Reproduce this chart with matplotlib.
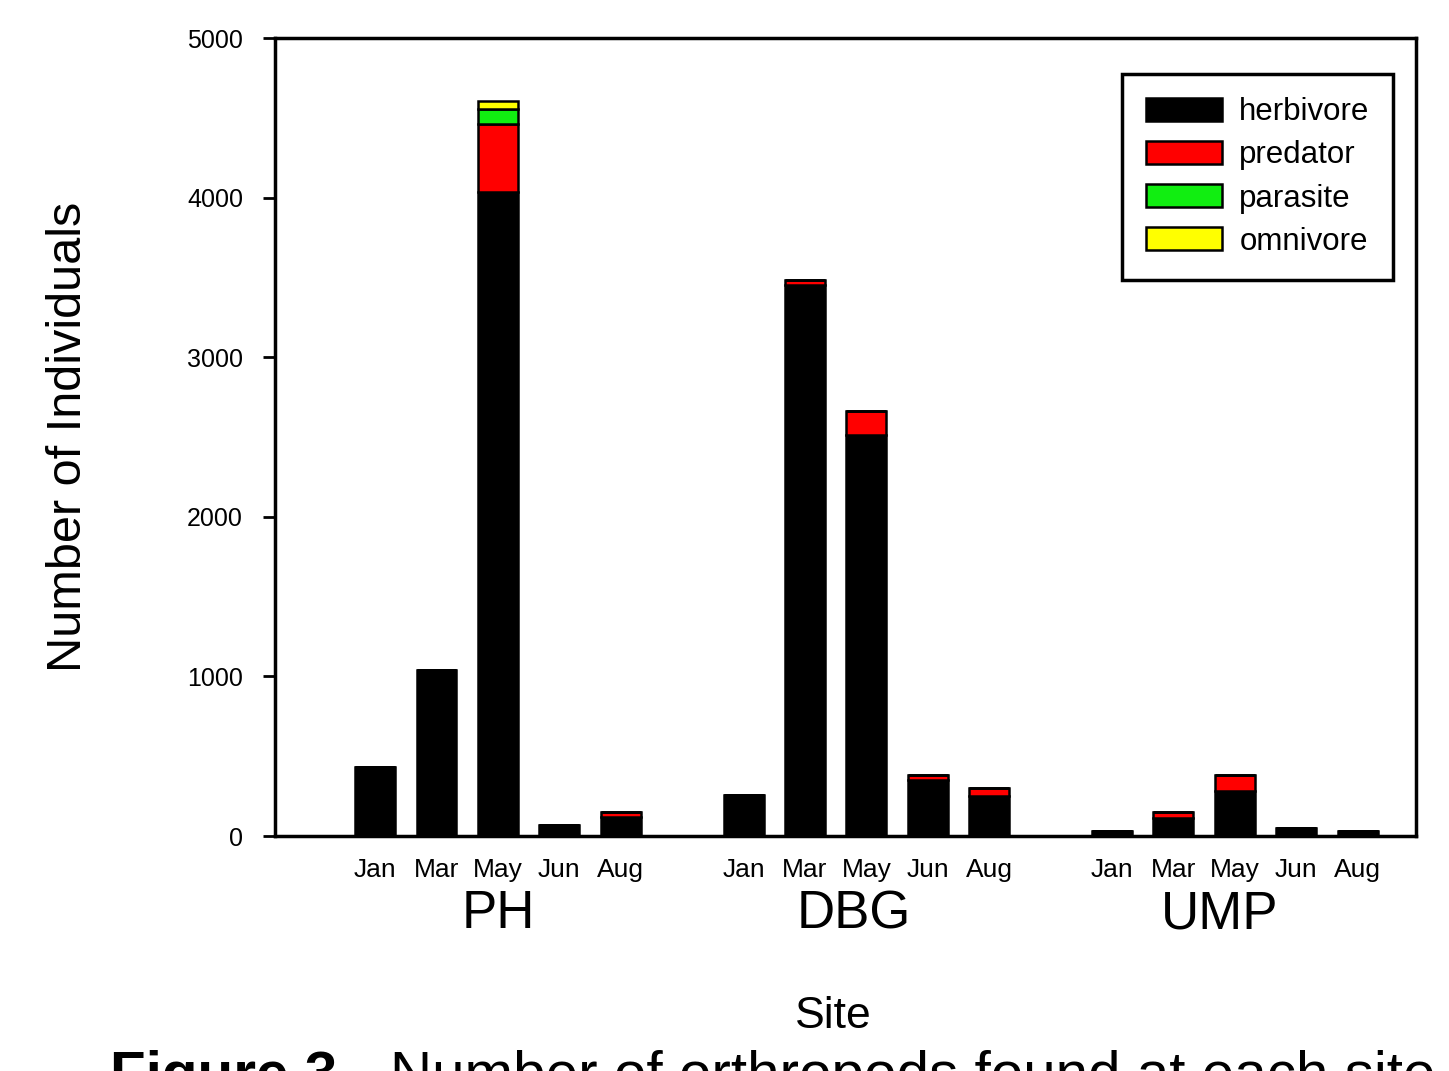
import matplotlib
matplotlib.use("Agg")
import matplotlib.pyplot as plt
import numpy as np

plt.rcParams['font.family'] = ['Liberation Sans', 'DejaVu Sans']

sites = ["PH", "DBG", "UMP"]
months = ["Jan", "Mar", "May", "Jun", "Aug"]
categories = ["herbivore", "predator", "parasite", "omnivore"]

# values per site, ordered Jan, Mar, May, Jun, Aug
herbivore = {"PH": [430, 1040, 4035, 70, 120],
             "DBG": [260, 3450, 2510, 350, 250],
             "UMP": [30, 115, 285, 48, 30]}
predator = {"PH": [0, 0, 425, 0, 30],
            "DBG": [0, 35, 150, 35, 50],
            "UMP": [0, 37, 100, 0, 0]}
parasite = {"PH": [0, 0, 95, 0, 0],
            "DBG": [0, 0, 6, 0, 0],
            "UMP": [0, 0, 0, 0, 0]}
omnivore = {"PH": [0, 0, 50, 0, 0],
            "DBG": [0, 0, 0, 0, 0],
            "UMP": [0, 0, 0, 0, 0]}

series = [herbivore, predator, parasite, omnivore]
colors = ["#000000", "#ff0000", "#11ee11", "#ffff00"]

fig = plt.figure(figsize=(14.49, 10.71), dpi=100)
ax = fig.add_axes([0.1898, 0.2194, 0.7874, 0.7451])

positions = []
labels = []
for gi, site in enumerate(sites):
    x = np.arange(len(months)) + gi * 6
    bottom = np.zeros(len(months))
    for si, (s, c, name) in enumerate(zip(series, colors, categories)):
        vals = np.array(s[site], dtype=float)
        ax.bar(x, vals, width=0.65, bottom=bottom, color=c, edgecolor="black",
               linewidth=1.8, label=name if gi == 0 else None, zorder=3)
        bottom += vals
    positions.extend(x)
    labels.extend(months)

ax.set_xlim(-1.63, 16.95)
ax.set_ylim(0, 5000)
ax.set_yticks([0, 1000, 2000, 3000, 4000, 5000])
ax.set_yticklabels(["0", "1000", "2000", "3000", "4000", "5000"], fontsize=18)
ax.set_xticks(positions)
ax.set_xticklabels(labels, fontsize=19)
ax.tick_params(axis="x", length=0, pad=16)
ax.tick_params(axis="y", length=9, width=2, direction="out", pad=14)
for sp in ax.spines.values():
    sp.set_linewidth(2.5)

group_x = [2.0, 7.8, 13.75]
for gx, site in zip(group_x, sites):
    ax.text(gx, -0.098, site, transform=ax.get_xaxis_transform(),
            ha="center", va="center", fontsize=38)

ax.set_ylabel("Number of Individuals", fontsize=35)
ax.yaxis.set_label_coords(-0.161, 0.5)
fig.text(833 / 1449, 1 - 1017 / 1071, "Site", ha="center", va="center", fontsize=32)

leg = ax.legend(loc="upper right", bbox_to_anchor=(0.98, 0.955), borderaxespad=0,
                fontsize=22.5, handlelength=2.45, handleheight=0.75, labelspacing=0.42,
                handletextpad=0.55, borderpad=0.75, fancybox=False, framealpha=1,
                edgecolor="black")
leg.get_frame().set_linewidth(2.5)

fig.text(110 / 1449, 1 - 1092 / 1071, "Figure 3.", fontsize=42, fontweight="bold",
         ha="left", va="baseline")
fig.text(390 / 1449, 1 - 1092 / 1071, "Number of orthropods found at each site",
         fontsize=42, ha="left", va="baseline")

fig.savefig("out.png", dpi=100)
